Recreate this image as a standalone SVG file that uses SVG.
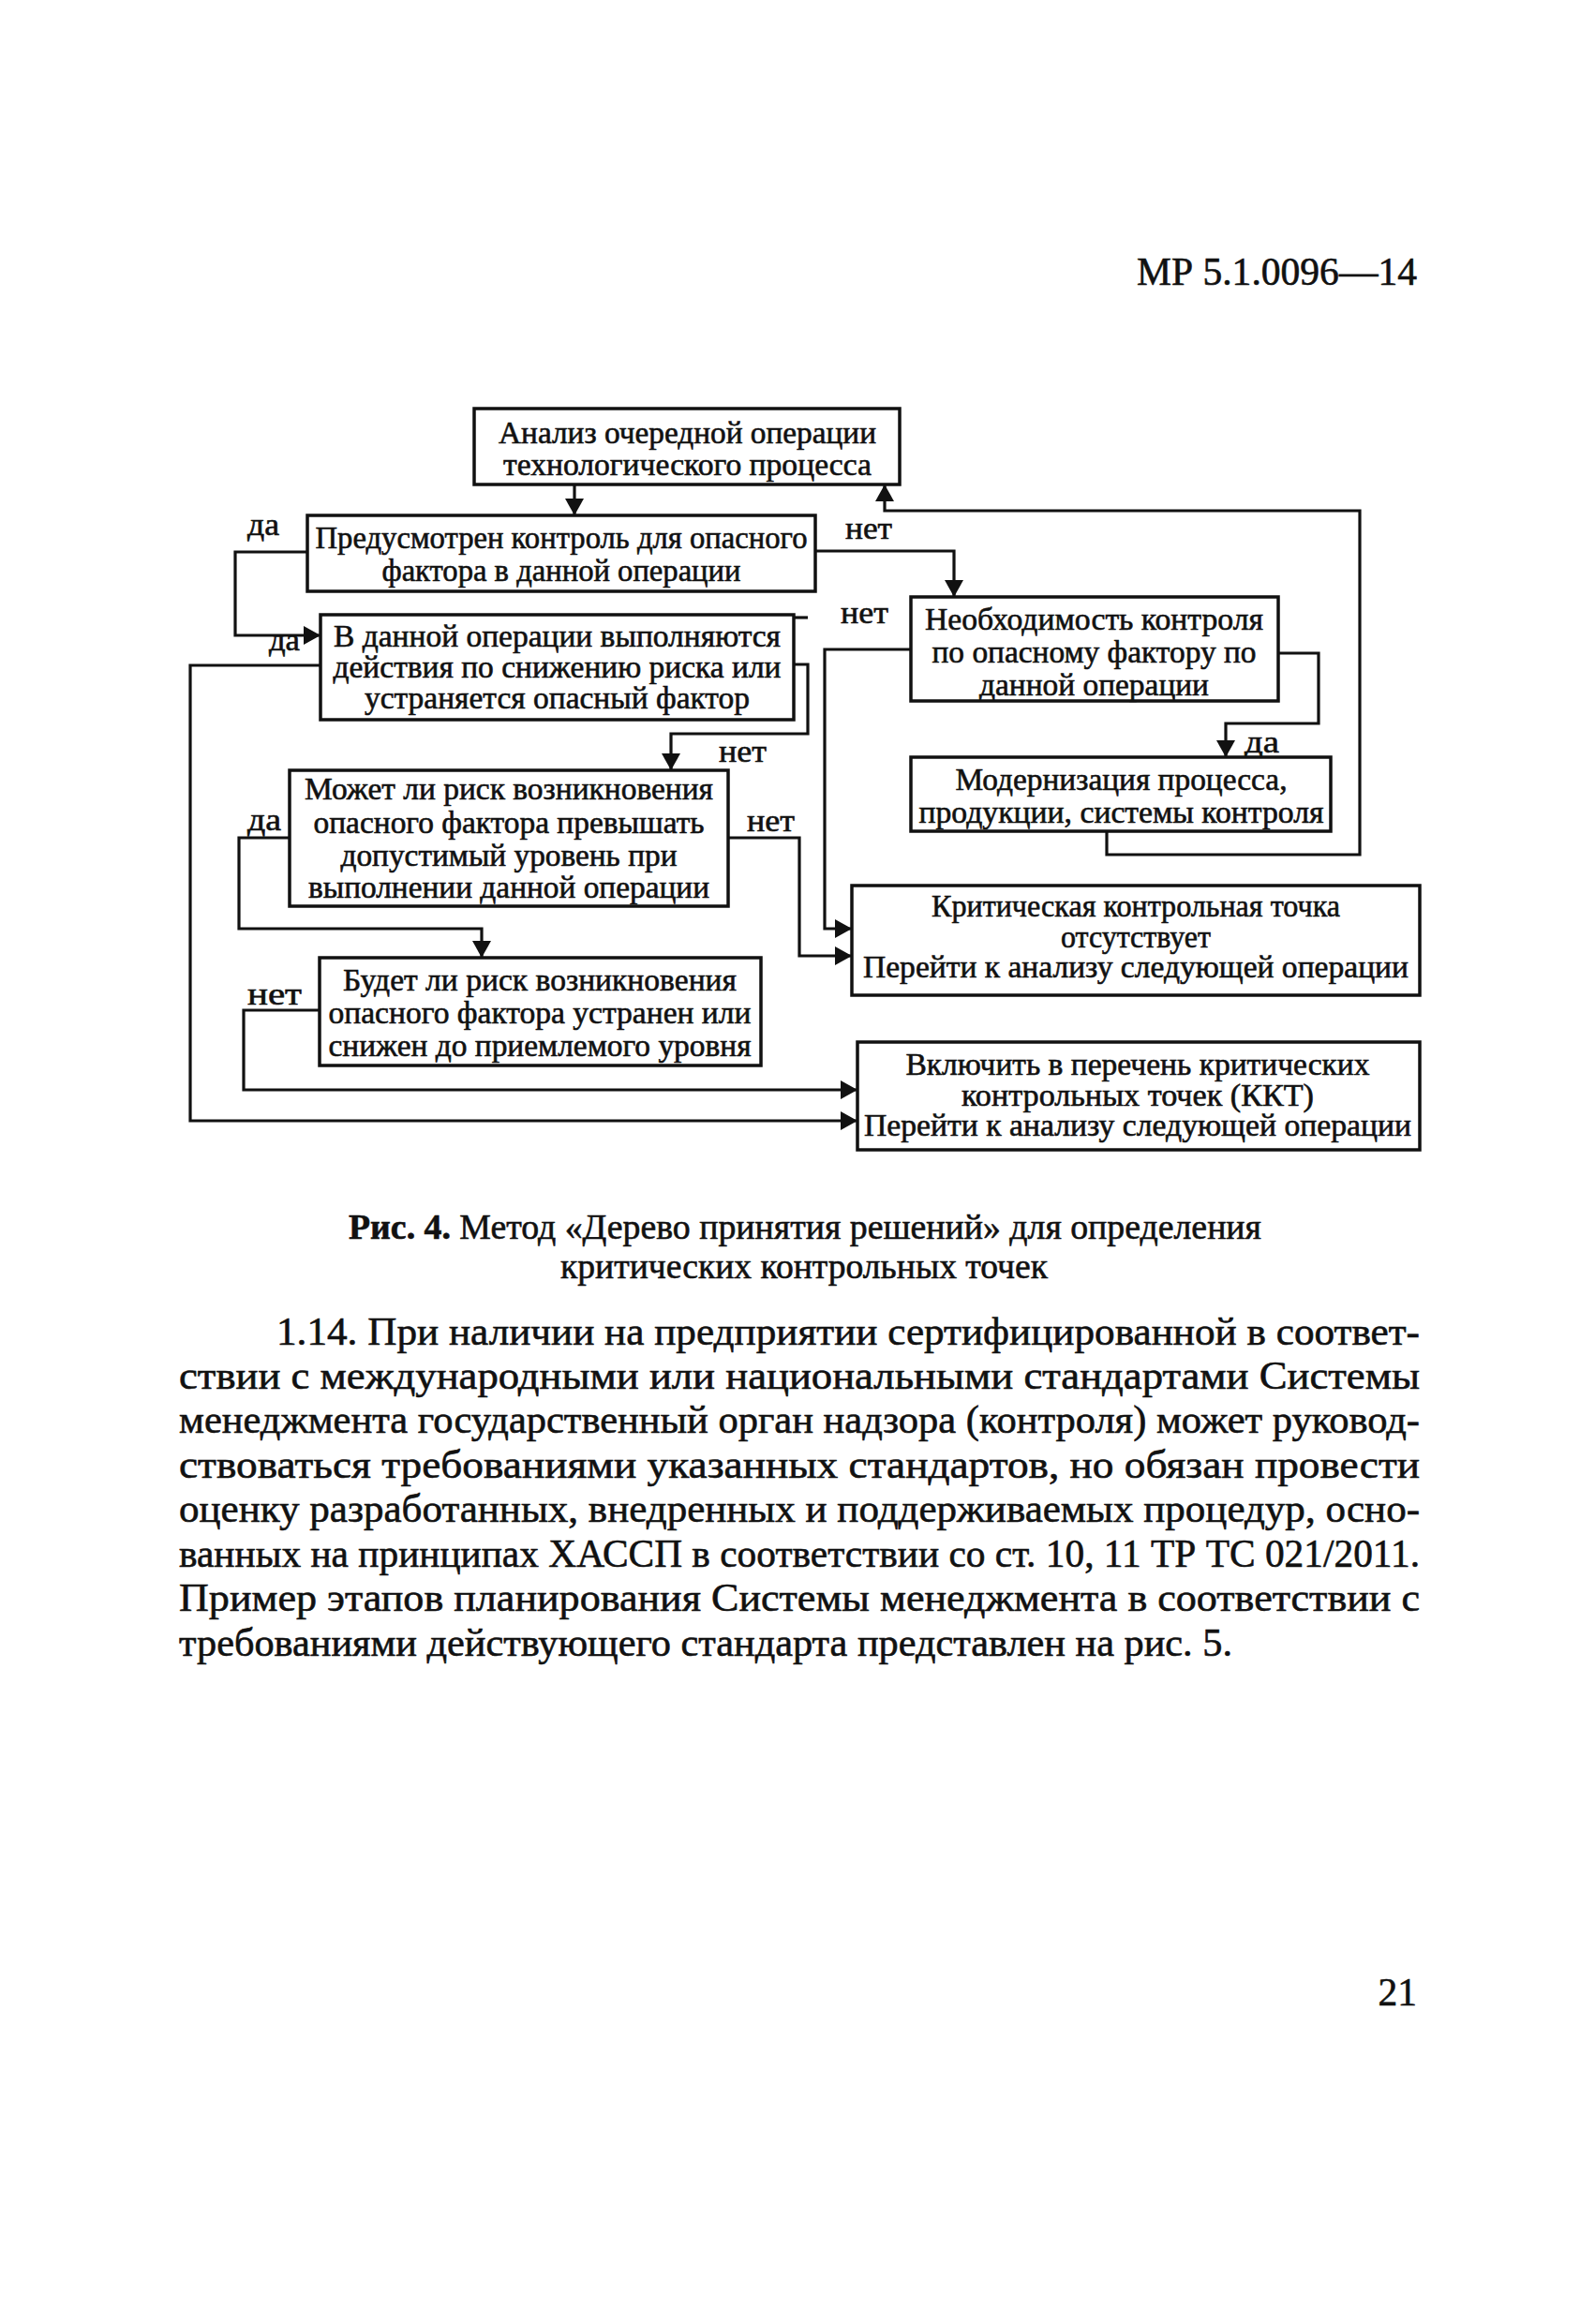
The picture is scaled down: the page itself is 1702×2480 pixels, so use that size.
<svg xmlns="http://www.w3.org/2000/svg" width="1702" height="2480" viewBox="0 0 1702 2480">
<style>
text{font-family:"Liberation Serif","Times New Roman",serif;fill:#111;stroke:#111;stroke-width:0.6}
.n{font-size:33px;text-anchor:middle}
.lbl{font-size:33px}
.box{fill:#fff;stroke:#111;stroke-width:3.5}
.c{fill:none;stroke:#111;stroke-width:3.2}
.body{font-size:42px}
.cap{font-size:37.5px}
</style>
<defs>
<marker id="arr" markerWidth="18" markerHeight="20" refX="18" refY="10" orient="auto" markerUnits="userSpaceOnUse"><path d="M0,0 L18,10 L0,20 z" fill="#111"/></marker>
</defs>
<rect width="1702" height="2480" fill="#fff"/>
<text x="1213" y="304" font-size="41.5" textLength="299" lengthAdjust="spacingAndGlyphs">МР 5.1.0096—14</text>

<g id="connectors">
<path class="c" d="M613,517 V550" marker-end="url(#arr)"/>
<path class="c" d="M328,589 H251 V678 H342" marker-end="url(#arr)"/>
<path class="c" d="M870,588 H1018 V637" marker-end="url(#arr)"/>
<path class="c" d="M1181,887 V912 H1451 V545 H944 V517" marker-end="url(#arr)"/>
<path class="c" d="M1364,697 H1407 V772 H1308 V808" marker-end="url(#arr)"/>
<path class="c" d="M972,693 H880 V991 H909" marker-end="url(#arr)"/>
<path class="c" d="M847,709 H862 V783 H716 V822" marker-end="url(#arr)"/>
<path class="c" d="M847,659 H862"/>
<path class="c" d="M342,710 H203 V1196 H915" marker-end="url(#arr)"/>
<path class="c" d="M309,894 H255 V991 H514 V1022" marker-end="url(#arr)"/>
<path class="c" d="M777,894 H853 V1020 H909" marker-end="url(#arr)"/>
<path class="c" d="M341,1078 H260 V1163 H915" marker-end="url(#arr)"/>
<text class="lbl" x="264" y="571" textLength="34" lengthAdjust="spacingAndGlyphs">да</text>
<text class="lbl" x="902" y="575" textLength="50" lengthAdjust="spacingAndGlyphs">нет</text>
<text class="lbl" x="897" y="665" textLength="51" lengthAdjust="spacingAndGlyphs">нет</text>
<text class="lbl" x="287" y="694" textLength="33" lengthAdjust="spacingAndGlyphs">да</text>
<text class="lbl" x="767" y="813" textLength="51" lengthAdjust="spacingAndGlyphs">нет</text>
<text class="lbl" x="1328" y="803" textLength="37" lengthAdjust="spacingAndGlyphs">да</text>
<text class="lbl" x="264" y="886" textLength="36" lengthAdjust="spacingAndGlyphs">да</text>
<text class="lbl" x="797" y="887" textLength="51" lengthAdjust="spacingAndGlyphs">нет</text>
<text class="lbl" x="264" y="1072" textLength="58" lengthAdjust="spacingAndGlyphs">нет</text>
</g>

<g id="n1">
<rect class="box" x="506" y="436" width="454" height="81"/>
<text class="n" x="733.5" y="473" textLength="403" lengthAdjust="spacingAndGlyphs">Анализ очередной операции</text>
<text class="n" x="733.5" y="507" textLength="393" lengthAdjust="spacingAndGlyphs">технологического процесса</text>
</g>
<g id="n2">
<rect class="box" x="328" y="550" width="542" height="81"/>
<text class="n" x="599" y="585" textLength="525" lengthAdjust="spacingAndGlyphs">Предусмотрен контроль для опасного</text>
<text class="n" x="599" y="620" textLength="383" lengthAdjust="spacingAndGlyphs">фактора в данной операции</text>
</g>
<g id="n3">
<rect class="box" x="342" y="656" width="505" height="112"/>
<text class="n" x="594.5" y="690" textLength="477" lengthAdjust="spacingAndGlyphs">В данной операции выполняются</text>
<text class="n" x="594.5" y="723" textLength="478" lengthAdjust="spacingAndGlyphs">действия по снижению риска или</text>
<text class="n" x="594.5" y="756" textLength="411" lengthAdjust="spacingAndGlyphs">устраняется опасный фактор</text>
</g>
<g id="n4">
<rect class="box" x="972" y="637" width="392" height="111"/>
<text class="n" x="1167.5" y="672" textLength="361" lengthAdjust="spacingAndGlyphs">Необходимость контроля</text>
<text class="n" x="1167.5" y="707" textLength="346" lengthAdjust="spacingAndGlyphs">по опасному фактору по</text>
<text class="n" x="1167.5" y="742" textLength="245" lengthAdjust="spacingAndGlyphs">данной операции</text>
</g>
<g id="n5">
<rect class="box" x="972" y="808" width="448" height="79"/>
<text class="n" x="1196.5" y="843" textLength="354" lengthAdjust="spacingAndGlyphs">Модернизация процесса,</text>
<text class="n" x="1196.5" y="878" textLength="432" lengthAdjust="spacingAndGlyphs">продукции, системы контроля</text>
</g>
<g id="n6">
<rect class="box" x="309" y="822" width="468" height="145"/>
<text class="n" x="543" y="853" textLength="436" lengthAdjust="spacingAndGlyphs">Может ли риск возникновения</text>
<text class="n" x="543" y="889" textLength="417" lengthAdjust="spacingAndGlyphs">опасного фактора превышать</text>
<text class="n" x="543" y="924" textLength="359" lengthAdjust="spacingAndGlyphs">допустимый уровень при</text>
<text class="n" x="543" y="958" textLength="428" lengthAdjust="spacingAndGlyphs">выполнении данной операции</text>
</g>
<g id="n7">
<rect class="box" x="341" y="1022" width="471" height="115"/>
<text class="n" x="576" y="1057" textLength="420" lengthAdjust="spacingAndGlyphs">Будет ли риск возникновения</text>
<text class="n" x="576" y="1092" textLength="451" lengthAdjust="spacingAndGlyphs">опасного фактора устранен или</text>
<text class="n" x="576" y="1127" textLength="451" lengthAdjust="spacingAndGlyphs">снижен до приемлемого уровня</text>
</g>
<g id="n8">
<rect class="box" x="909" y="945" width="606" height="117"/>
<text class="n" x="1212" y="978" textLength="436" lengthAdjust="spacingAndGlyphs">Критическая контрольная точка</text>
<text class="n" x="1212" y="1011" textLength="160" lengthAdjust="spacingAndGlyphs">отсутствует</text>
<text class="n" x="1212" y="1043" textLength="582" lengthAdjust="spacingAndGlyphs">Перейти к анализу следующей операции</text>
</g>
<g id="n9">
<rect class="box" x="915" y="1112" width="600" height="115"/>
<text class="n" x="1214" y="1147" textLength="495" lengthAdjust="spacingAndGlyphs">Включить в перечень критических</text>
<text class="n" x="1214" y="1180" textLength="376" lengthAdjust="spacingAndGlyphs">контрольных точек (ККТ)</text>
<text class="n" x="1214" y="1212" textLength="584" lengthAdjust="spacingAndGlyphs">Перейти к анализу следующей операции</text>
</g>

<g id="caption">
<text class="cap" x="372" y="1322" textLength="974" lengthAdjust="spacingAndGlyphs"><tspan font-weight="bold">Рис. 4.</tspan> Метод «Дерево принятия решений» для определения</text>
<text class="cap" x="598" y="1364" textLength="520" lengthAdjust="spacingAndGlyphs">критических контрольных точек</text>
</g>

<g id="body">
<text class="body" x="295" y="1435" textLength="1220" lengthAdjust="spacingAndGlyphs">1.14. При наличии на предприятии сертифицированной в соответ-</text>
<text class="body" x="191" y="1482" textLength="1324" lengthAdjust="spacingAndGlyphs">ствии с международными или национальными стандартами Системы</text>
<text class="body" x="191" y="1529" textLength="1324" lengthAdjust="spacingAndGlyphs">менеджмента государственный орган надзора (контроля) может руковод-</text>
<text class="body" x="191" y="1577" textLength="1324" lengthAdjust="spacingAndGlyphs">ствоваться требованиями указанных стандартов, но обязан провести</text>
<text class="body" x="191" y="1624" textLength="1324" lengthAdjust="spacingAndGlyphs">оценку разработанных, внедренных и поддерживаемых процедур, осно-</text>
<text class="body" x="191" y="1672" textLength="1324" lengthAdjust="spacingAndGlyphs">ванных на принципах ХАССП в соответствии со ст. 10, 11 ТР ТС 021/2011.</text>
<text class="body" x="191" y="1719" textLength="1324" lengthAdjust="spacingAndGlyphs">Пример этапов планирования Системы менеджмента в соответствии с</text>
<text class="body" x="191" y="1767" textLength="1124" lengthAdjust="spacingAndGlyphs">требованиями действующего стандарта представлен на рис. 5.</text>
</g>

<text x="1512" y="2140" font-size="41.5" text-anchor="end">21</text>
</svg>
